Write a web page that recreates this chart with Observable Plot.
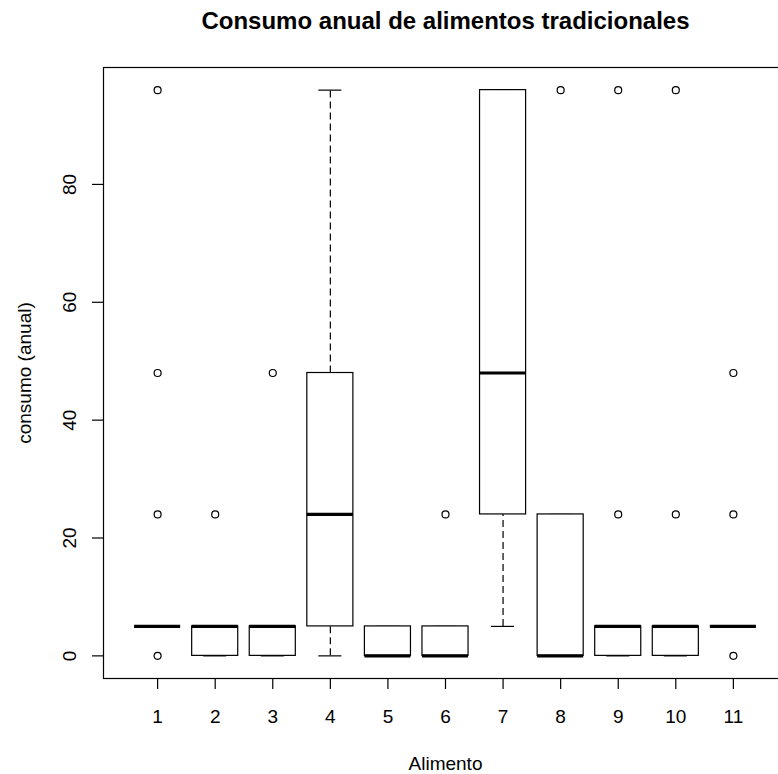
<!DOCTYPE html>
<html>
<head>
<meta charset="utf-8">
<script src="https://cdn.jsdelivr.net/npm/d3@7"></script>
<script src="https://cdn.jsdelivr.net/npm/@observablehq/plot@0.6"></script>
<style>
  html, body { margin: 0; padding: 0; background: white; overflow: hidden; }
</style>
</head>
<body>
<div id="chart"></div>
<script>
const titulo = "Consumo anual de alimentos tradicionales";
const etiquetaX = "Alimento";
const etiquetaY = "consumo (anual)";

const alimentos   = [1, 2, 3, 4, 5, 6, 7, 8, 9, 10, 11];
const bigoteInf   = [5, 0, 0, 0, 0, 0, 5, 0, 0, 0, 5];
const cuartil1    = [5, 0, 0, 5, 0, 0, 24, 0, 0, 0, 5];
const mediana     = [5, 5, 5, 24, 0, 0, 48, 0, 5, 5, 5];
const cuartil3    = [5, 5, 5, 48, 5, 5, 96, 24, 5, 5, 5];
const bigoteSup   = [5, 5, 5, 96, 5, 5, 96, 24, 5, 5, 5];

const atipicoAlimento = [1, 1, 1, 1, 2, 3, 6, 8, 9, 9, 10, 10, 11, 11, 11];
const atipicoValor    = [96, 48, 24, 0, 24, 48, 24, 96, 96, 24, 96, 24, 48, 24, 0];

const yTicks = [0, 20, 40, 60, 80];
const xDomain = [0.06, 11.94];
const yDomain = [-3.84, 99.84];

const cajas = alimentos.map((a, i) => ({
  a, lo: bigoteInf[i], q1: cuartil1[i], med: mediana[i], q3: cuartil3[i], hi: bigoteSup[i]
}));
const atipicos = atipicoAlimento.map((a, i) => ({a, v: atipicoValor[i]}));

const halfBox = 0.4, halfStaple = 0.2;

const chart = Plot.plot({
  width: 778,
  height: 774,
  marginLeft: 103,
  marginRight: -9,
  marginTop: 67,
  marginBottom: 96,
  x: {type: "linear", domain: xDomain},
  y: {type: "linear", domain: yDomain},
  style: {fontFamily: "'Liberation Sans', Arial, sans-serif", fontSize: "19px", color: "black", background: "white"},
  marks: [
    Plot.frame({stroke: "black", strokeWidth: 1.2}),
    Plot.axisX({ticks: alimentos, tickSize: 11, tickFormat: () => "", label: null, stroke: "black", strokeWidth: 1.2}),
    Plot.axisY({ticks: yTicks, tickSize: 11, tickFormat: () => "", label: null, stroke: "black", strokeWidth: 1.2}),
    Plot.ruleX(cajas, {x: "a", y1: "q3", y2: "hi", stroke: "black", strokeWidth: 1.2, strokeDasharray: "7,4"}),
    Plot.ruleX(cajas, {x: "a", y1: "lo", y2: "q1", stroke: "black", strokeWidth: 1.2, strokeDasharray: "7,4"}),
    Plot.ruleY(cajas, {y: "hi", x1: d => d.a - halfStaple, x2: d => d.a + halfStaple, stroke: "black", strokeWidth: 1.2}),
    Plot.ruleY(cajas, {y: "lo", x1: d => d.a - halfStaple, x2: d => d.a + halfStaple, stroke: "black", strokeWidth: 1.2}),
    Plot.rect(cajas, {x1: d => d.a - halfBox, x2: d => d.a + halfBox, y1: "q1", y2: "q3", fill: "white", stroke: "black", strokeWidth: 1.2}),
    Plot.ruleY(cajas, {y: "med", x1: d => d.a - halfBox, x2: d => d.a + halfBox, stroke: "black", strokeWidth: 3.2}),
    Plot.dot(atipicos, {x: "a", y: "v", r: 3.5, stroke: "black", strokeWidth: 1.2, fill: "none"}),
    Plot.text(yTicks, {y: d => d, text: d => String(d), frameAnchor: "left", dx: -28, rotate: -90, lineAnchor: "bottom", textAnchor: "middle", fill: "black"}),
    Plot.text(alimentos, {x: d => d, text: d => String(d), frameAnchor: "bottom", dy: 44, lineAnchor: "bottom", textAnchor: "middle", fill: "black"}),
    Plot.text([etiquetaX], {text: d => d, frameAnchor: "bottom", dy: 91, lineAnchor: "bottom", textAnchor: "middle", fill: "black"}),
    Plot.text([etiquetaY], {text: d => d, frameAnchor: "left", dx: -73, rotate: -90, lineAnchor: "bottom", textAnchor: "middle", fill: "black"}),
    Plot.text([titulo], {text: d => d, frameAnchor: "top", dy: -39, lineAnchor: "bottom", textAnchor: "middle", fontWeight: "bold", fontSize: 24, fill: "black"})
  ]
});
document.getElementById("chart").appendChild(chart);
</script>
</body>
</html>
